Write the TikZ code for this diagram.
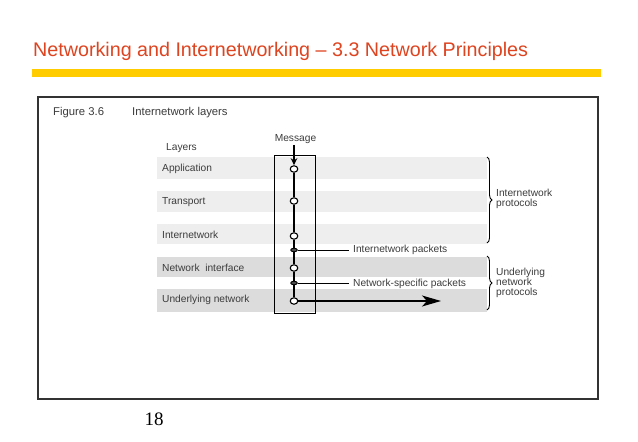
\documentclass[tikz,border=0pt]{standalone}
\usepackage{fontspec}
\setmainfont{Liberation Sans}
\newfontfamily\pagefont{Liberation Serif}
\usetikzlibrary{arrows.meta,decorations.pathreplacing,shapes.geometric}
\definecolor{titlered}{RGB}{222,68,32}
\definecolor{baryellow}{RGB}{255,204,0}
\definecolor{bandlight}{RGB}{238,238,238}
\definecolor{banddark}{RGB}{220,220,220}
\definecolor{txtgray}{RGB}{60,60,60}
\begin{document}
\begin{tikzpicture}[x=1pt,y=-1pt,
  lab/.style={font=\fontsize{10.2}{10}\selectfont, text=txtgray, inner sep=0pt, anchor=west},
  hdr/.style={font=\fontsize{11.3}{13}\selectfont, text=txtgray, inner sep=0pt, anchor=west},
  port/.style={ellipse, draw=black, fill=white, line width=1.1pt, minimum width=7.5pt, minimum height=6.5pt, inner sep=0pt},
  junc/.style={ellipse, draw=black, fill=black!70, line width=0.9pt, minimum width=6.5pt, minimum height=3.6pt, inner sep=0pt},
  wire/.style={line width=1.2pt},
  pkt/.style={line width=0.9pt},
  brc/.style={decorate, decoration={brace, amplitude=5pt}, line width=0.9pt},
]
\useasboundingbox (0,0) rectangle (638,442);
\fill[white] (0,0) rectangle (638,442);

% title and bar
\node[anchor=base west, inner sep=0pt, text=titlered, font=\fontsize{19.7}{24}\selectfont] (title) at (33,56) {Networking and Internetworking – 3.3 Network Principles};
\fill[baryellow] (32,69) rectangle (601,77);

% figure frame
\draw[line width=1.4pt, draw=black!80] (38,97) rectangle (598,399);
\node[hdr] (fig) at (53,113) {Figure 3.6};
\node[hdr] (figt) at (132,113) {Internetwork layers};

% bands
\fill[bandlight] (157,157) rectangle (487,179);
\fill[bandlight] (157,191) rectangle (487,212);
\fill[bandlight] (157,224) rectangle (487,244);
\fill[banddark] (157,257) rectangle (487,277);
\fill[banddark] (157,289) rectangle (487,312);

\node[lab] (layers) at (166,148) {Layers};
\node[lab] (lapp) at (162,169) {Application};
\node[lab] (ltr) at (162,202) {Transport};
\node[lab] (lin) at (162,235) {Internetwork};
\node[lab] (lni) at (162,268) {Network\ \ interface};
\node[lab] (lun) at (162,300) {Underlying network};

% host box
\draw[line width=1pt] (274,155) rectangle (315,313);

% ports
\node[port] (c1) at (294,169) {};
\node[port] (c2) at (294,201) {};
\node[port] (c3) at (294,236) {};
\node[junc] (j1) at (294,250) {};
\node[port] (c4) at (294,268) {};
\node[junc] (j2) at (294,283) {};
\node[port] (c5) at (294,301) {};

\draw[wire] (c1) -- (c2);
\draw[wire] (c2) -- (c3);
\draw[wire] (c3) -- (j1);
\draw[wire] (j1) -- (c4);
\draw[wire] (c4) -- (j2);
\draw[wire] (j2) -- (c5);

% message
\node[lab, anchor=center] (msg) at (295.5,139) {Message};
\draw[line width=1.1pt, -{Stealth[length=7pt,width=6.5pt]}] (c1.north |- msg.south) ++(0,1) -- (c1.north);

% packets
\node[lab] (pt1) at (353,250) {Internetwork packets};
\node[lab] (pt2) at (353,284) {Network-specific packets};
\draw[pkt] (j1.east) -- ([xshift=-4pt]pt1.west |- j1.east);
\draw[pkt] (j2.east) -- ([xshift=-4pt]pt2.west |- j2.east);

% outgoing arrow
\coordinate (dest) at (441,301);
\draw[line width=1.3pt, -{Stealth[length=19pt,width=11pt,inset=5pt]}] (c5.east) -- (dest);

% braces
\coordinate (b1t) at (487,157);
\coordinate (b1b) at (487,243);
\coordinate (b2t) at (487,256);
\coordinate (b2b) at (487,310);
\draw[brc] (b1t) -- (b1b);
\draw[brc] (b2t) -- (b2b);
\node[lab, align=left, font=\fontsize{10.2}{10}\selectfont] (ip) at (496,199) {Internetwork\\protocols};
\node[lab, align=left, font=\fontsize{10.2}{9.5}\selectfont] (unp) at (496,282.5) {Underlying\\network\\protocols};

% page number
\node[anchor=base, inner sep=0pt, font=\pagefont\fontsize{19}{22}\selectfont] (pg) at (154,425) {18};
\end{tikzpicture}
\end{document}
